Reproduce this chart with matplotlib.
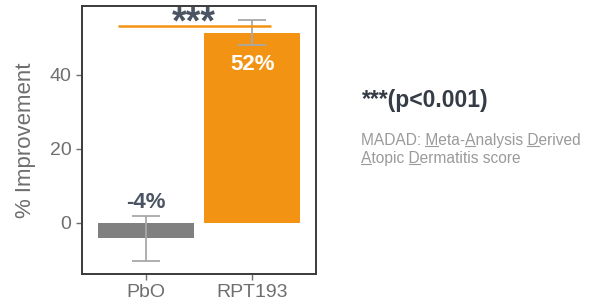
#!/usr/bin/env python3
"""Percent improvement bar chart: PbO vs RPT193 (MADAD)."""

import matplotlib
matplotlib.use('Agg')
import matplotlib.pyplot as plt
from matplotlib.font_manager import FontProperties
from matplotlib.lines import Line2D

# data
groups = ['PbO', 'RPT193']
improvement = [-4.1, 51.4]
err_low = [6.2, 3.4]
err_high = [6.0, 3.4]
bar_labels = ['-4%', '52%']
y_ticks = [0, 20, 40]
sig_stars = '***'
sig_note = '***(p<0.001)'
note_lines = ['MADAD: Meta-Analysis Derived', 'Atopic Dermatitis score']
note_underlined = [[7, 12, 21], [0, 7]]   # character indices underlined

plt.rcParams['font.family'] = ['Liberation Sans', 'DejaVu Sans']

colors = ['#808080', '#f39314']
text_dark = '#4a5462'
tick_gray = '#6e6e6e'
W, H = 596, 304

fig = plt.figure(figsize=(W / 100, H / 100), dpi=100)
ax = fig.add_axes([0.1376, 0.0987, 0.3926, 0.8816])

x = list(range(len(groups)))
ax.bar(x, improvement, width=0.9, color=colors, zorder=2)
ax.errorbar(x, improvement, yerr=[err_low, err_high], fmt='none',
            ecolor='#a8a8a8', elinewidth=1.3, capsize=10, capthick=1.3, zorder=3)

# value labels
ax.text(x[0], improvement[0] + 9.6, bar_labels[0], ha='center', va='center',
        fontsize=16, fontweight='bold', color=text_dark)
ax.text(x[1], improvement[1] - 8.6, bar_labels[1], ha='center', va='center',
        fontsize=16, fontweight='bold', color='white', zorder=4)

# significance bracket
ax.plot([-0.265, 1.18], [53.2, 53.2], color='#f39314', lw=1.8, zorder=4,
        solid_capstyle='butt')
ax.text(0.455, 51.2, sig_stars, ha='center', va='baseline', fontsize=27,
        fontweight='bold', color=text_dark, zorder=5)

ax.set_xlim(-0.6, 1.6)
ax.set_ylim(-13.8, 58.6)
ax.set_xticks(x)
ax.set_xticklabels(groups)
ax.set_yticks(y_ticks)
ax.tick_params(labelsize=14, colors=tick_gray, length=4, width=1.0,
               labelcolor=tick_gray)
ax.set_ylabel('% Improvement', fontsize=16, color=tick_gray, labelpad=10)
for sp in ax.spines.values():
    sp.set_color('#3a3a3a')
    sp.set_linewidth(1.4)

# right-hand notes
fig.text(362 / W, 1 - 101 / H, sig_note, ha='left', va='center',
         fontsize=16.5, fontweight='bold', color='#363c46')

renderer = fig.canvas.get_renderer()
note_prop = FontProperties(family=['Liberation Sans'], size=11.2)
note_x = 361
for line, y_px, marks in zip(note_lines, [140, 158], note_underlined):
    fig.text(note_x / W, 1 - y_px / H, line, ha='left', va='center',
             fontproperties=note_prop, color='#9a9a9a')
    for i in marks:
        x0 = renderer.get_text_width_height_descent(line[:i], note_prop, False)[0] if i else 0
        x1 = renderer.get_text_width_height_descent(line[:i + 1], note_prop, False)[0]
        uy = 1 - (y_px + 6.5) / H
        fig.add_artist(Line2D([(note_x + x0) / W, (note_x + x1) / W], [uy, uy],
                              transform=fig.transFigure, color='#9a9a9a', lw=0.8))

fig.savefig('out.png', dpi=100)
